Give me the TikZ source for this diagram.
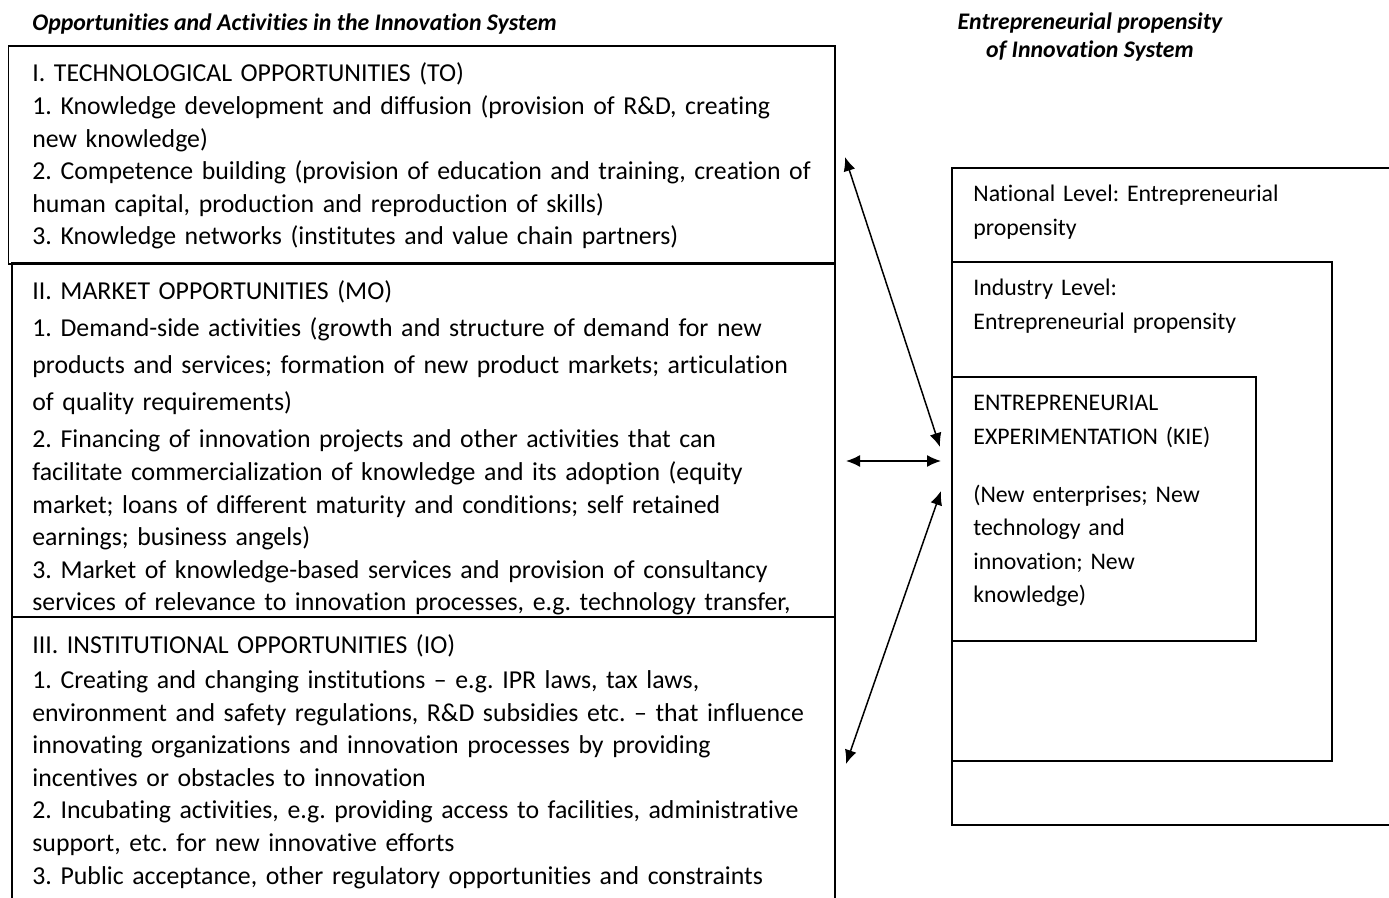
\documentclass[tikz,border=0pt]{standalone}
\usepackage{fontspec}
\setmainfont{Carlito}[Ligatures={NoCommon}]
\usetikzlibrary{arrows.meta,fit}
\frenchspacing

\begin{document}
\begin{tikzpicture}[x=0.5pt,y=-0.5pt,>={Latex[length=7pt,width=6pt]},
    font=\fontsize{12.9pt}{16.3pt}\selectfont]
  \tikzstyle{box}=[draw,line width=0.85pt,inner sep=0pt]
  \tikzstyle{txt}=[anchor=base west,align=left,text width=410pt,inner sep=0pt]
  \tikzstyle{rtxt}=[txt,text width=200pt,font=\fontsize{11.9pt}{16.8pt}\selectfont]
  \tikzstyle{head}=[inner sep=0pt,font=\fontsize{11.9pt}{14pt}\selectfont\bfseries\itshape]
  \tikzstyle{link}=[<->,line width=0.75pt]
  \useasboundingbox (0,0) rectangle (1389,898);
  \clip (0,0) rectangle (1389,898);

  % titles
  \node[head,anchor=base west] (lefthead) at (32,31)
    {Opportunities and Activities in the Innovation System};
  \node[head,align=center,anchor=base] (righthead) at (1090,58)
    {Entrepreneurial propensity\\of Innovation System};

  % opportunities (left column)
  \node[box,fit={(8.5,46) (835,264)}] (to) {};
  \node[box,fit={(12,263) (835,617)}] (mo) {};
  \node[box,fit={(12,617) (835,910)}] (io) {};
  \node[txt] (totext) at (32,82)
    {I. TECHNOLOGICAL OPPORTUNITIES (TO)\\
     1. Knowledge development and diffusion (provision of R\&D, creating\\
     new knowledge)\\
     2. Competence building (provision of education and training, creation of\\
     human capital, production and reproduction of skills)\\
     3. Knowledge networks (institutes and value chain partners)};
  \node[txt] (motext) at (32,300)
    {II. MARKET OPPORTUNITIES (MO)\\[2.2pt]
     1. Demand-side activities (growth and structure of demand for new\\[2.2pt]
     products and services; formation of new product markets; articulation\\[2.2pt]
     of quality requirements)\\[2.2pt]
     2. Financing of innovation projects and other activities that can\\
     facilitate commercialization of knowledge and its adoption (equity\\
     market; loans of different maturity and conditions; self retained\\
     earnings; business angels)\\
     3. Market of knowledge-based services and provision of consultancy\\
     services of relevance to innovation processes, e.g. technology transfer,};
  \node[txt] (iotext) at (32,654)
    {III. INSTITUTIONAL OPPORTUNITIES (IO)\\[1pt]
     1. Creating and changing institutions – e.g. IPR laws, tax laws,\\
     environment and safety regulations, R\&D subsidies etc. – that influence\\
     innovating organizations and innovation processes by providing\\
     incentives or obstacles to innovation\\
     2. Incubating activities, e.g. providing access to facilities, administrative\\
     support, etc. for new innovative efforts\\
     3. Public acceptance, other regulatory opportunities and constraints};

  % propensity levels (right column)
  \node[box,fit={(952,168) (1400,825)}] (national) {};
  \node[box,fit={(952,262) (1332,761)}] (industry) {};
  \node[box,fit={(952,377) (1256,641)}] (kie) {};
  \node[rtxt] (nationaltext) at (973,202)
    {National Level: Entrepreneurial\\propensity};
  \node[rtxt] (industrytext) at (973,296)
    {Industry Level:\\Entrepreneurial propensity};
  \node[rtxt] (kietext) at (973,411)
    {ENTREPRENEURIAL\\EXPERIMENTATION (KIE)\\[12pt]
     (New enterprises; New\\technology and\\innovation; New\\knowledge)};

  % links
  \coordinate (toend) at (845,157);
  \coordinate (kietop) at (940,447);
  \coordinate (moend) at (846,461);
  \coordinate (kiemid) at (941,461);
  \coordinate (kielow) at (941,491);
  \coordinate (ioend) at (846,764);
  \draw[link] (toend) -- (kietop);
  \draw[link] (moend) -- (kiemid);
  \draw[link] (kielow) -- (ioend);
\end{tikzpicture}
\end{document}
